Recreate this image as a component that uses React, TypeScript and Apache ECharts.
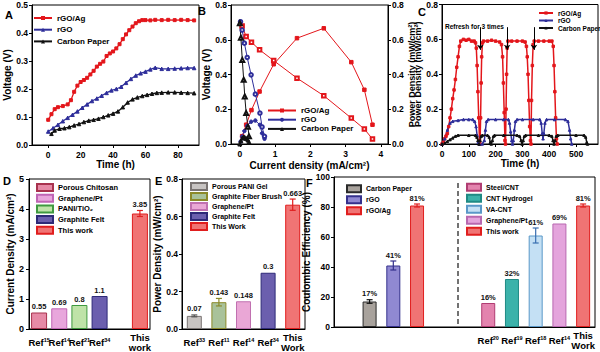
import React, { useEffect, useRef } from 'react';
import * as echarts from 'echarts';

const FONT = '"Liberation Sans", Arial, Helvetica, sans-serif';
const RED = '#e3161b';
const BLUE = '#2e2e9a';
const BLACK = '#111111';

// ---------- Panel A : voltage vs time ----------
const aAgT = [0, 2, 4, 6, 9, 12, 14, 16, 18, 20, 22, 24, 26, 28, 30, 32, 34, 36, 38, 40, 42, 44, 46, 48, 50, 52, 54, 56, 58, 60, 63, 66, 70, 74, 78, 82, 86, 90];
const aAgV = [0.09, 0.11, 0.128, 0.135, 0.139, 0.145, 0.16, 0.19, 0.212, 0.225, 0.232, 0.24, 0.252, 0.265, 0.28, 0.29, 0.298, 0.318, 0.327, 0.334, 0.345, 0.36, 0.378, 0.395, 0.41, 0.423, 0.435, 0.442, 0.446, 0.446, 0.445, 0.447, 0.446, 0.447, 0.446, 0.447, 0.446, 0.445];
const aGOT = [0, 3, 6, 9, 12, 15, 18, 21, 24, 27, 30, 33, 36, 39, 42, 45, 48, 51, 54, 57, 60, 63, 66, 70, 74, 78, 82, 86, 90];
const aGOV = [0.048, 0.06, 0.072, 0.085, 0.097, 0.108, 0.12, 0.133, 0.145, 0.157, 0.166, 0.176, 0.186, 0.195, 0.2, 0.208, 0.222, 0.236, 0.248, 0.256, 0.262, 0.27, 0.276, 0.272, 0.272, 0.273, 0.274, 0.275, 0.275];
const aCPT = [2, 4, 7, 10, 13, 16, 19, 22, 25, 28, 31, 34, 37, 40, 43, 46, 49, 52, 55, 58, 61, 64, 67, 70, 74, 78, 82, 86, 90];
const aCPV = [0.04, 0.052, 0.058, 0.06, 0.064, 0.07, 0.075, 0.082, 0.087, 0.09, 0.094, 0.1, 0.106, 0.112, 0.12, 0.135, 0.152, 0.163, 0.17, 0.175, 0.179, 0.183, 0.186, 0.187, 0.188, 0.188, 0.187, 0.186, 0.185];
const aTicks = [0, 20, 40, 60, 80];

// ---------- Panel B : polarization ----------
const bAgI = [0.066, 0.18, 0.33, 0.56, 0.96, 1.62, 2.38, 3.16, 3.53, 3.76];
const bAgV = [0.679, 0.618, 0.586, 0.542, 0.48, 0.379, 0.278, 0.149, 0.086, 0.029];
const bAgP = [0.045, 0.111, 0.195, 0.302, 0.459, 0.609, 0.666, 0.471, 0.312, 0.111];
const bGOI = [0.02, 0.066, 0.13, 0.21, 0.32, 0.44, 0.57, 0.63, 0.7];
const bGOV = [0.704, 0.656, 0.58, 0.498, 0.398, 0.287, 0.178, 0.098, 0.044];
const bGOP = [0.014, 0.043, 0.075, 0.105, 0.128, 0.135, 0.11, 0.062, 0.03];
const bCPI = [0.0, 0.03, 0.07, 0.11, 0.14, 0.18, 0.23, 0.26];
const bCPV = [0.695, 0.612, 0.484, 0.37, 0.274, 0.178, 0.1, 0.044];
const bCPP = [0.0, 0.018, 0.034, 0.041, 0.038, 0.032, 0.023, 0.011];
const bTicks = [0, 1, 2, 3, 4];

// ---------- Panel C : power density over time ----------
const cAgT = [0, 5, 10, 15, 20, 25, 30, 35, 40, 45, 50, 55, 60, 65, 70, 80, 90, 100, 110, 120, 125, 128, 131, 134, 137, 140, 142, 144, 146, 148, 151, 155, 170, 185, 200, 215, 222, 226, 229, 232, 235, 237, 239, 241, 243, 246, 260, 280, 300, 310, 315, 318, 321, 324, 327, 330, 332, 334, 337, 340, 344, 360, 380, 400, 410, 415, 418, 421, 424, 427, 430];
const cAgV = [0, 0.01, 0.03, 0.045, 0.06, 0.1, 0.15, 0.2, 0.26, 0.31, 0.37, 0.44, 0.5, 0.56, 0.59, 0.6, 0.595, 0.6, 0.59, 0.59, 0.58, 0.55, 0.45, 0.3, 0.15, 0.02, 0, 0.15, 0.35, 0.5, 0.58, 0.59, 0.59, 0.595, 0.59, 0.585, 0.57, 0.5, 0.35, 0.18, 0.02, 0, 0.2, 0.4, 0.55, 0.59, 0.59, 0.59, 0.59, 0.585, 0.56, 0.5, 0.4, 0.25, 0.1, 0.02, 0, 0.25, 0.45, 0.57, 0.59, 0.59, 0.59, 0.59, 0.59, 0.56, 0.45, 0.3, 0.15, 0.03, 0];
const cGOT = [0, 10, 20, 30, 40, 60, 80, 100, 115, 122, 127, 131, 135, 140, 150, 158, 162, 166, 172, 200, 230, 248, 252, 256, 260, 263, 266, 270, 274, 280, 300, 340, 365, 370, 374, 377, 380, 384, 390, 420, 460, 470, 476, 480, 484];
const cGOV = [0, 0.03, 0.08, 0.12, 0.13, 0.135, 0.14, 0.14, 0.14, 0.13, 0.1, 0.05, 0.01, 0, 0, 0.02, 0.08, 0.13, 0.14, 0.14, 0.14, 0.14, 0.12, 0.07, 0.02, 0, 0.02, 0.08, 0.13, 0.14, 0.14, 0.14, 0.14, 0.12, 0.06, 0.03, 0.06, 0.12, 0.14, 0.14, 0.14, 0.13, 0.08, 0.03, 0];
const cCPT = [0, 10, 20, 30, 40, 50, 60, 100, 125, 130, 134, 138, 142, 146, 150, 170, 176, 180, 184, 188, 192, 196, 230, 280, 290, 295, 299, 303, 307, 312, 360, 400, 410, 414, 418, 422, 426, 432, 500, 530, 536, 540, 543];
const cCPV = [0, 0.005, 0.015, 0.025, 0.035, 0.045, 0.05, 0.05, 0.05, 0.04, 0.02, 0, 0.02, 0.045, 0.05, 0.05, 0.04, 0.01, 0, 0.02, 0.045, 0.05, 0.05, 0.05, 0.045, 0.02, 0, 0.02, 0.045, 0.05, 0.05, 0.05, 0.045, 0.02, 0, 0.02, 0.045, 0.05, 0.05, 0.05, 0.04, 0.01, 0];
const cRefreshT = [143, 243, 343];
const cTicks = [0, 100, 200, 300, 400, 500];

// ---------- Panel D : current density comparison ----------
const dTicks = ['Ref15', 'Ref14', 'Ref21', 'Ref34', '', 'This work'];
const dNames = ['Porous Chitosan', 'Graphene/Pt', 'PANI/TiO\u2082', 'Graphite Felt', 'This work'];
const dValues = [0.55, 0.69, 0.8, 1.1, 3.85];
const dErr = [0, 0, 0, 0, 0.1];
const dLabels = ['0.55', '0.69', '0.8', '1.1', '3.85'];

// ---------- Panel E : power density comparison ----------
const eTicks = ['Ref33', 'Ref11', 'Ref14', 'Ref34', 'This Work'];
const eNames = ['Porous PANI Gel', 'Graphite Fiber Brush', 'Graphene/Pt', 'Graphite Felt', 'This Work'];
const eValues = [0.07, 0.143, 0.148, 0.3, 0.663];
const eErr = [0.005, 0.02, 0, 0, 0.03];
const eLabels = ['0.07', '0.143', '0.148', '0.3', '0.663'];

// ---------- Panel F : coulombic efficiency ----------
const fTicks = ['', '', '', '', '', '', 'Ref20', 'Ref19', 'Ref18', 'Ref14', 'This Work'];
const fNames = ['Carbon Paper', 'rGO', 'rGO/Ag', 'Steel/CNT', 'CNT Hydrogel', 'VA-CNT', 'Graphene/Pt', 'This work'];
const fValues = [17, 41, 81, 16, 32, 61, 69, 81];
const fErr = [1.2, 3, 1, 0, 0, 5, 0, 1];
const fLabels = ['17%', '41%', '81%', '16%', '32%', '61%', '69%', '81%'];

// ---------- styles ----------
const dFill = ['#e68aa6', '#e8a6dc', '#bfe3a8', '#6b5fae', '#f07474'];
const dEdge = ['#a8324e', '#c065b5', '#3f9a3f', '#2e2a78', '#e01e1e'];
const eFill = ['#c8c4c2', '#a9c29a', '#eaa7d6', '#6b5fae', '#f07474'];
const eEdge = ['#7a7472', '#8c8a2a', '#c070b0', '#2e2a78', '#e01e1e'];
const fFill = ['#a8a29c', '#9089d2', '#f07474', '#e383ae', '#3bb2aa', '#c4e0f4', '#e4a4dc', '#f07474'];
const fEdge = ['#2a2a2a', '#34308c', '#e01e1e', '#b03c72', '#1f8a84', '#5a98c8', '#b868b0', '#e01e1e'];
const fErrColor = ['#111', '#34308c', '#e01e1e', '#111', '#111', '#3a6fb0', '#111', '#e01e1e'];
const fBarSlots = [1, 2, 3, 6, 7, 8, 9, 10];

const nm = (p: string, n: string) => p + '|' + n;
const strip = (n: string) => n.split('|')[1];
const pairs = (xs: number[], ys: number[]) => xs.map((x, i) => [x, ys[i]]);

function axis(extra: any = {}) {
  const { axisLabel = {}, axisTick = {}, axisLine = {}, nameTextStyle = {}, ...rest } = extra;
  return {
    axisLine: { show: true, onZero: false, lineStyle: { color: '#000', width: 1 }, ...axisLine },
    axisTick: { show: true, length: 3, lineStyle: { color: '#000', width: 1 }, ...axisTick },
    axisLabel: { color: '#000', fontSize: 8.5, fontWeight: 'bold', fontFamily: FONT, margin: 5, ...axisLabel },
    splitLine: { show: false },
    nameLocation: 'middle',
    nameTextStyle: { color: '#000', fontSize: 10, fontWeight: 'bold', fontFamily: FONT, ...nameTextStyle },
    ...rest,
  };
}

const richTick = {
  r: { fontSize: 9.5, fontWeight: 'bold', fontFamily: FONT, color: '#000', lineHeight: 10 },
  s: { fontSize: 5.5, fontWeight: 'bold', fontFamily: FONT, color: '#000', lineHeight: 4, verticalAlign: 'top' },
};
function tickFmt(t: string) {
  const m = /^Ref(\d+)$/.exec(t);
  if (m) return `{r|Ref}{s|${m[1]}}`;
  if (!t) return '';
  return t.split(' ').map((w) => `{r|${w}}`).join('\n');
}
function catAxis(gridIndex: number, ticks: string[]) {
  return axis({
    type: 'category',
    gridIndex,
    data: ticks.map((_, i) => 'slot' + gridIndex + '_' + i),
    axisTick: { show: false },
    axisLabel: {
      interval: 0,
      margin: 13,
      verticalAlign: 'middle',
      formatter: (_v: string, i: number) => tickFmt(ticks[i]),
      rich: richTick,
    },
  });
}

function barSeries(prefix: string, names: string[], values: number[], slots: number[], nSlots: number, fill: string[], edge: string[], axisIdx: number, yIdx: number, width: number) {
  return names.map((n, i) => ({
    type: 'bar',
    name: nm(prefix, n),
    xAxisIndex: axisIdx,
    yAxisIndex: yIdx,
    barWidth: width,
    barGap: '-100%',
    data: Array.from({ length: nSlots }, (_, s) => (s === slots[i] ? values[i] : '-')),
    itemStyle: { color: fill[i], borderColor: edge[i], borderWidth: 1 },
  }));
}

function errLabelSeries(axisIdx: number, yIdx: number, values: number[], errs: number[], slots: number[], labels: string[], errColors: string[]) {
  return {
    type: 'custom',
    xAxisIndex: axisIdx,
    yAxisIndex: yIdx,
    silent: true,
    z: 10,
    data: values.map((v, i) => [slots[i], v]),
    encode: { x: 0, y: 1 },
    renderItem: (params: any, api: any) => {
      const i = params.dataIndex;
      const s = api.value(0);
      const v = api.value(1);
      const e = errs[i];
      const top = api.coord([s, v + e]);
      const bot = api.coord([s, v - e]);
      const ch: any[] = [];
      if (e > 0) {
        const st = { stroke: errColors[i], lineWidth: 1.2 };
        ch.push({ type: 'line', shape: { x1: top[0], y1: top[1], x2: bot[0], y2: bot[1] }, style: st });
        ch.push({ type: 'line', shape: { x1: top[0] - 3, y1: top[1], x2: top[0] + 3, y2: top[1] }, style: st });
        ch.push({ type: 'line', shape: { x1: bot[0] - 3, y1: bot[1], x2: bot[0] + 3, y2: bot[1] }, style: st });
      }
      ch.push({
        type: 'text',
        x: top[0],
        y: top[1] - 2,
        style: { text: labels[i], fill: '#111', font: `bold 7.5px ${FONT}`, align: 'center', verticalAlign: 'bottom' },
      });
      return { type: 'group', children: ch };
    },
  };
}

function lineS(prefix: string, name: string, data: number[][], color: string, symbol: string, size: number, xi: number, yi: number, extra: any = {}) {
  return {
    type: 'line',
    name: nm(prefix, name),
    xAxisIndex: xi,
    yAxisIndex: yi,
    data,
    symbol,
    symbolSize: size,
    showSymbol: true,
    lineStyle: { color, width: 1.3 },
    itemStyle: { color, borderColor: color },
    ...extra,
  };
}

function legend(prefix: string, names: string[], left: number, top: number, opts: any) {
  return {
    data: names.map((n) => nm(prefix, n)),
    orient: 'vertical',
    left,
    top,
    padding: 0,
    selectedMode: false,
    formatter: strip,
    textStyle: { color: '#000', fontWeight: 'bold', fontFamily: FONT, fontSize: opts.fs, lineHeight: opts.lh },
    itemWidth: opts.w,
    itemHeight: opts.h,
    itemGap: opts.gap,
    ...(opts.icon ? { icon: opts.icon } : {}),
  };
}

function letter(t: string, x: number, y: number) {
  return { type: 'text', x, y, style: { text: t, font: `bold 11px ${FONT}`, fill: '#000', verticalAlign: 'middle' } };
}

export default function App() {
  const ref = useRef<HTMLDivElement>(null);
  useEffect(() => {
    document.body.style.margin = '0';
    const chart = echarts.init(ref.current!, undefined, { renderer: 'svg' });
    const dSlots = dTicks.map((t, i) => (t ? i : -1)).filter((i) => i >= 0);
    const eSlots = eTicks.map((_, i) => i);
    const lineNames = ['rGO/Ag', 'rGO', 'Carbon Paper'];

    const option: any = {
      animation: false,
      textStyle: { fontFamily: FONT },
      grid: [
        { left: 32, top: 5, width: 167, height: 140, show: true, borderColor: '#000', borderWidth: 1 },
        { left: 231, top: 5, width: 157, height: 139, show: true, borderColor: '#000', borderWidth: 1 },
        { left: 442, top: 4, width: 156, height: 140, show: true, borderColor: '#000', borderWidth: 1 },
        { left: 29, top: 179, width: 121, height: 150, show: true, borderColor: '#000', borderWidth: 1 },
        { left: 182, top: 179, width: 123, height: 150, show: true, borderColor: '#000', borderWidth: 1 },
        { left: 334, top: 177, width: 261, height: 150, show: true, borderColor: '#000', borderWidth: 1 },
      ],
      xAxis: [
        axis({ type: 'value', gridIndex: 0, min: -10, max: 93, name: 'Time (h)', nameGap: 13,
          axisLabel: { customValues: aTicks }, axisTick: { customValues: aTicks } }),
        axis({ type: 'value', gridIndex: 1, min: -0.25, max: 4.2, name: 'Current density (mA/cm\u00b2)', nameGap: 16,
          axisLabel: { customValues: bTicks }, axisTick: { customValues: bTicks } }),
        axis({ type: 'value', gridIndex: 2, min: 0, max: 582, name: 'Time (h)', nameGap: 12,
          axisLabel: { customValues: cTicks }, axisTick: { customValues: cTicks } }),
        catAxis(3, dTicks),
        catAxis(4, eTicks),
        catAxis(5, fTicks),
      ],
      yAxis: [
        axis({ type: 'value', gridIndex: 0, min: 0, max: 0.5, interval: 0.1, name: 'Voltage (V)', nameGap: 17,
          axisLabel: { formatter: (v: number) => v.toFixed(1), margin: 4 } }),
        axis({ type: 'value', gridIndex: 1, min: 0, max: 0.8, interval: 0.2, name: 'Voltage (V)', nameGap: 19,
          axisLabel: { formatter: (v: number) => v.toFixed(1), margin: 4 } }),
        axis({ type: 'value', gridIndex: 1, position: 'right', min: 0, max: 0.8, interval: 0.2, name: 'Power Density (mW/cm\u00b2)', nameGap: 13, nameRotate: 90,
          nameTextStyle: { fontSize: 9 },
          axisLabel: { formatter: (v: number) => v.toFixed(1), margin: 4 } }),
        axis({ type: 'value', gridIndex: 2, min: 0, max: 0.8, interval: 0.2, name: 'Power Density (mW/cm\u00b2)', nameGap: 19,
          nameTextStyle: { fontSize: 9 },
          axisLabel: { formatter: (v: number) => v.toFixed(1), margin: 4 } }),
        axis({ type: 'value', gridIndex: 3, min: 0, max: 5, interval: 1, name: 'Current Density (mA/cm\u00b2)', nameGap: 14,
          axisLabel: { fontSize: 9, margin: 5 } }),
        axis({ type: 'value', gridIndex: 4, min: 0, max: 0.8, interval: 0.2, name: 'Power Density (mW/cm\u00b2)', nameGap: 14,
          axisLabel: { fontSize: 8.5, formatter: (v: number) => v.toFixed(1), margin: 4 } }),
        axis({ type: 'value', gridIndex: 5, min: 0, max: 100, interval: 20, name: 'Coulombic Efficiency (%)', nameGap: 13,
          axisLabel: { fontSize: 8.5, margin: 4 } }),
      ],
      legend: [
        legend('A', lineNames, 33, 13.5, { fs: 8, lh: 9, w: 18, h: 5, gap: 2.7 }),
        legend('B', lineNames, 267, 106.5, { fs: 8, lh: 8, w: 28, h: 5, gap: 1.2 }),
        legend('C', lineNames, 538, 9.5, { fs: 6.5, lh: 6.5, w: 14, h: 4, gap: 0.5 }),
        legend('D', dNames, 36, 183, { fs: 7.5, lh: 8, w: 16, h: 7, gap: 1.7, icon: 'rect' }),
        legend('E', eNames, 190, 182, { fs: 7, lh: 7.5, w: 16, h: 7, gap: 1, icon: 'rect' }),
        legend('F', fNames.slice(0, 3), 346, 184.3, { fs: 7, lh: 8, w: 14, h: 7, gap: 2, icon: 'rect' }),
        legend('F', fNames.slice(3), 466, 182.7, { fs: 7, lh: 8, w: 14, h: 7, gap: 2, icon: 'rect' }),
      ],
      series: [
        // A
        lineS('A', 'rGO/Ag', pairs(aAgT, aAgV), RED, 'rect', 3, 0, 0),
        lineS('A', 'rGO', pairs(aGOT, aGOV), BLUE, 'triangle', 3.5, 0, 0),
        lineS('A', 'Carbon Paper', pairs(aCPT, aCPV), BLACK, 'triangle', 3.5, 0, 0),
        // B power (filled) and voltage (open)
        lineS('B', 'rGO/Ag', pairs(bAgI, bAgP), RED, 'rect', 3.5, 1, 2, { lineStyle: { color: RED, width: 1 } }),
        lineS('B', 'rGO', pairs(bGOI, bGOP), BLUE, 'circle', 3.5, 1, 2, { lineStyle: { color: BLUE, width: 1 } }),
        lineS('B', 'Carbon Paper', pairs(bCPI, bCPP), BLACK, 'triangle', 4, 1, 2, { lineStyle: { color: BLACK, width: 1 } }),
        lineS('B', 'rGO/Ag', pairs(bAgI, bAgV), RED, 'emptyRect', 3.5, 1, 1, { lineStyle: { color: RED, width: 1 } }),
        lineS('B', 'rGO', pairs(bGOI, bGOV), BLUE, 'emptyCircle', 3.5, 1, 1, { lineStyle: { color: BLUE, width: 1 } }),
        lineS('B', 'Carbon Paper', pairs(bCPI, bCPV), BLACK, 'emptyTriangle', 4, 1, 1, { lineStyle: { color: BLACK, width: 1 } }),
        // C
        lineS('C', 'rGO/Ag', pairs(cAgT, cAgV), RED, 'rect', 2.5, 2, 3, {
          lineStyle: { color: RED, width: 1.5 },
          markLine: {
            silent: true,
            symbol: ['none', 'arrow'],
            symbolSize: 5,
            label: { show: false },
            lineStyle: { color: '#000', width: 1, type: 'solid' },
            data: cRefreshT.map((t) => [{ coord: [t, 0.67] }, { coord: [t, 0.54] }]),
          },
        }),
        lineS('C', 'rGO', pairs(cGOT, cGOV), BLUE, 'triangle', 2.5, 2, 3, { lineStyle: { color: BLUE, width: 1.5 } }),
        lineS('C', 'Carbon Paper', pairs(cCPT, cCPV), BLACK, 'triangle', 2.5, 2, 3, { lineStyle: { color: BLACK, width: 1.5 } }),
        // D
        ...barSeries('D', dNames, dValues, dSlots, dTicks.length, dFill, dEdge, 3, 4, 16),
        errLabelSeries(3, 4, dValues, dErr, dSlots, dLabels, ['#111', '#111', '#111', '#111', '#e01e1e']),
        // E
        ...barSeries('E', eNames, eValues, eSlots, eTicks.length, eFill, eEdge, 4, 5, 15),
        errLabelSeries(4, 5, eValues, eErr, eSlots, eLabels, ['#555', '#8c8a2a', '#111', '#111', '#e01e1e']),
        // F
        ...barSeries('F', fNames, fValues, fBarSlots, fTicks.length, fFill, fEdge, 5, 6, 14),
        errLabelSeries(5, 6, fValues, fErr, fBarSlots, fLabels, fErrColor),
      ],
      graphic: [
        letter('A', 5, 15),
        letter('B', 198, 11),
        letter('C', 418, 12),
        letter('D', 3, 181),
        letter('E', 155, 181),
        letter('F', 306, 183),
        { type: 'text', x: 445, y: 26, style: { text: 'Refresh for 3 times', font: `bold 6.5px ${FONT}`, fill: '#000', verticalAlign: 'middle' } },
        { type: 'line', shape: { x1: 458, y1: 183, x2: 458, y2: 324 }, style: { stroke: '#444', lineWidth: 1.5, lineDash: [5, 3] } },
      ],
    };
    chart.setOption(option);
    return () => chart.dispose();
  }, []);
  return <div ref={ref} style={{ width: 600, height: 352 }} />;
}
